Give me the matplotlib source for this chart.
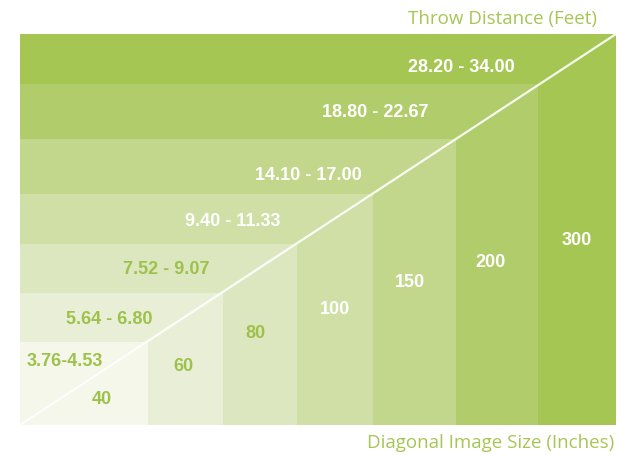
import matplotlib.pyplot as plt
from matplotlib.patches import Rectangle

# screen sizes (inches) and throw distance ranges (feet)
sizes = ["300", "200", "150", "100", "80", "60", "40"]
throws = ["28.20 - 34.00", "18.80 - 22.67", "14.10 - 17.00", "9.40 - 11.33",
          "7.52 - 9.07", "5.64 - 6.80", "3.76-4.53"]
# right and top edge of each block (figure pixels, origin top-left)
right_edge = [616, 538, 456, 373, 297, 223, 148]
top_edge = [35, 85, 140, 195, 245, 294, 343]
colors = ["#a6c654", "#b1cc6b", "#c2d78b", "#cfdfa6", "#dce7c0", "#e8efd6", "#f4f7ea"]

# label positions
throw_xy = [(461, 68), (375, 113), (308, 176), (233, 222), (166, 270), (109, 320), (65, 362)]
size_xy = [(577, 241), (490, 263), (410, 283), (335, 310), (255, 334), (183, 367), (102, 400)]
white_labels = [True, True, True, True, False, False, False]

x0, y0 = 20, 426
green = "#9ec14b"

fig = plt.figure(figsize=(6.21, 4.56), dpi=100)
ax = fig.add_axes([0, 0, 1, 1])
ax.set_xlim(0, 621)
ax.set_ylim(456, 0)
ax.axis("off")

for i in range(len(sizes)):
    ax.add_patch(Rectangle((x0, top_edge[i]), right_edge[i] - x0, y0 - top_edge[i],
                           facecolor=colors[i], edgecolor="none"))

# diagonal
ax.plot([x0, right_edge[0]], [y0, top_edge[0]], color="white", lw=1.6, alpha=0.9)

for i in range(len(sizes)):
    c = "white" if white_labels[i] else green
    ax.text(throw_xy[i][0], throw_xy[i][1], throws[i], color=c, fontsize=13,
            fontweight="bold", family="Liberation Sans", ha="center", va="center")
    ax.text(size_xy[i][0], size_xy[i][1], sizes[i], color=c, fontsize=13,
            fontweight="bold", family="Liberation Sans", ha="center", va="center")

ax.text(597, 19, "Throw Distance (Feet)", color="#a6c653", fontsize=13.5,
        family="Open Sans", ha="right", va="center")
ax.text(614, 443, "Diagonal Image Size (Inches)", color="#a6c653", fontsize=13.5,
        family="Open Sans", ha="right", va="center")

fig.savefig("out.png", dpi=100)
